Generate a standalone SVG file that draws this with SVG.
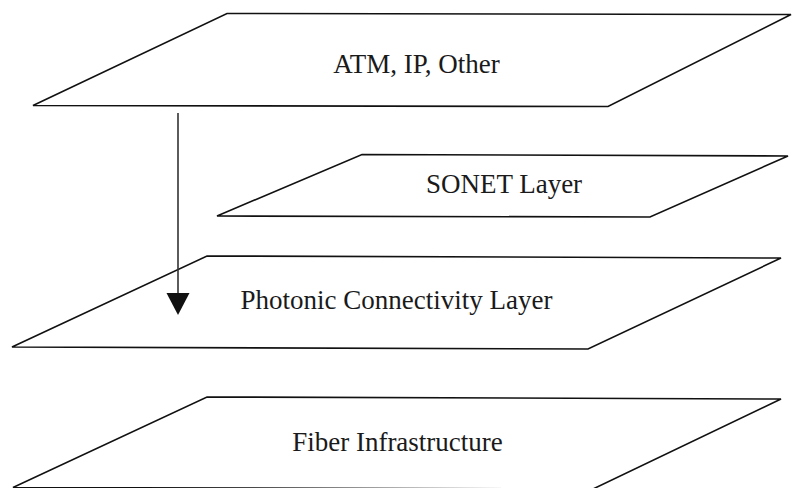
<svg xmlns="http://www.w3.org/2000/svg" width="793" height="488" viewBox="0 0 793 488">
  <style>
    .plane { fill: #ffffff; stroke: #111111; stroke-width: 1.6; stroke-linejoin: miter; }
    .label { font-family: "Liberation Serif", "Times New Roman", serif; font-size: 27px; fill: #1a1a1a; text-anchor: middle; }
    .conn { stroke: #333333; stroke-width: 1.6; fill: none; }
  </style>
  <defs>
    <marker id="arrowhead" markerWidth="23" markerHeight="22" refX="11.5" refY="0" orient="auto" markerUnits="userSpaceOnUse" viewBox="0 0 23 22">
      <path d="M0,0 L23,0 L11.5,22 Z" fill="#111111"/>
    </marker>
  </defs>
  <rect width="793" height="488" fill="#ffffff"/>

  <!-- layer planes, top to bottom -->
  <g id="layer-atm-ip">
    <polygon class="plane" points="227,13.5 791,14.5 608,106.5 33,105.5"/>
    <text class="label" x="416.5" y="73">ATM, IP, Other</text>
  </g>

  <g id="layer-sonet">
    <polygon class="plane" points="362,154.5 788,156 650,217 217,216"/>
    <text class="label" x="504" y="193">SONET Layer</text>
  </g>

  <g id="layer-photonic">
    <polygon class="plane" points="207,256 781,258 588,349 12,347"/>
    <text class="label" x="396.5" y="309">Photonic Connectivity Layer</text>
  </g>

  <g id="layer-fiber">
    <polygon class="plane" points="207,397 781,399 593,489 13,487.5"/>
    <text class="label" x="397.5" y="451">Fiber Infrastructure</text>
  </g>

  <!-- downward connector -->
  <g id="connectors">
    <line class="conn" x1="178" y1="113" x2="178" y2="293"/>
    <path d="M166.5,293 L189.5,293 L178,315 Z" fill="#111111"/>
  </g>
</svg>
